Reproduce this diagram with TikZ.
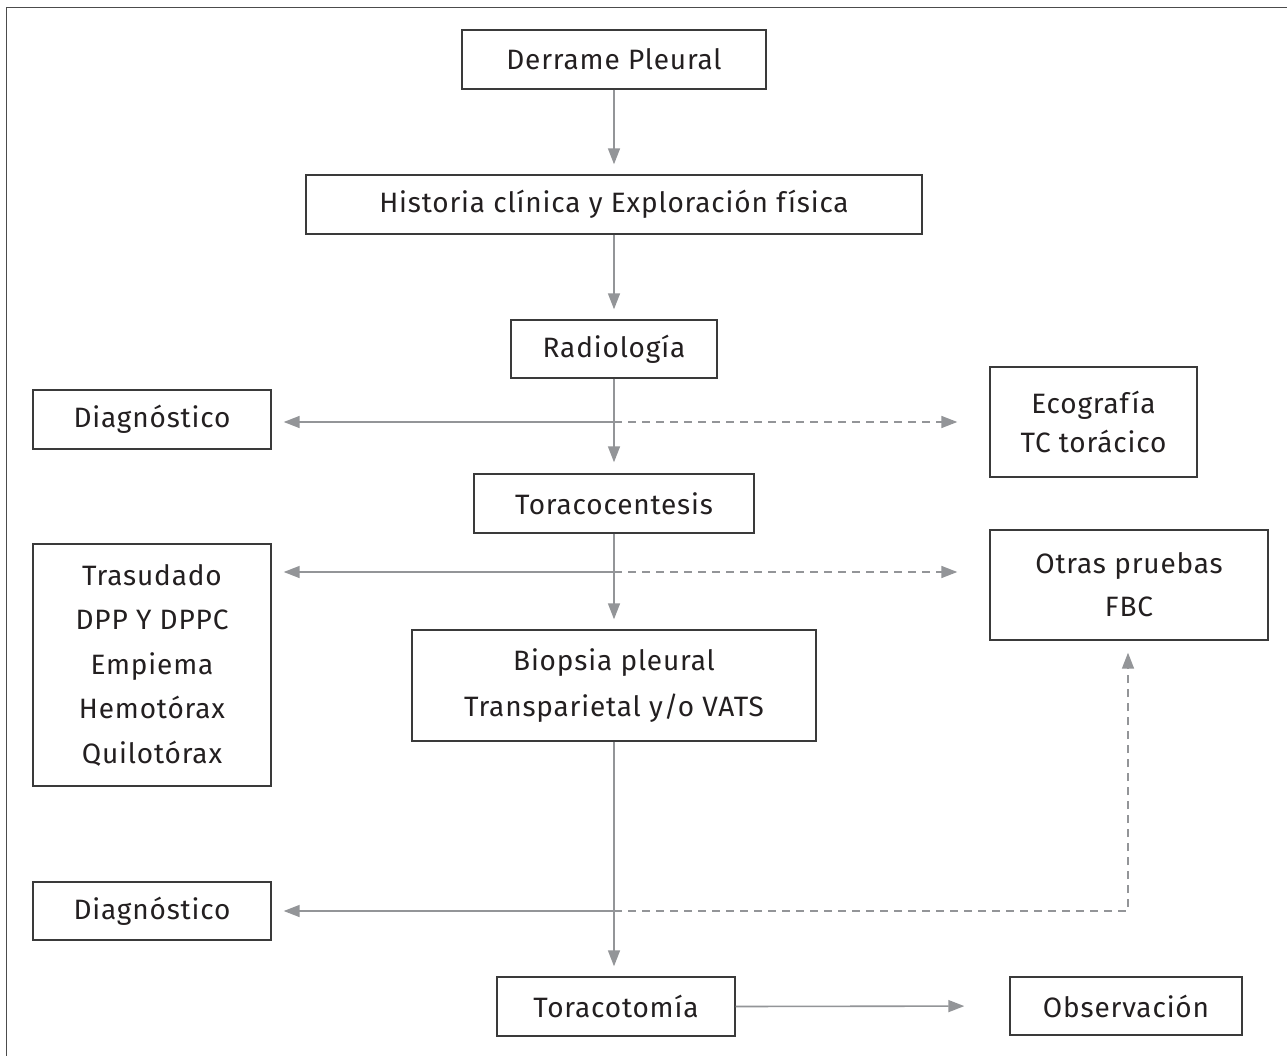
\documentclass[tikz,border=0pt]{standalone}
\usepackage{fontspec}
\setmainfont[LetterSpace=3]{Fira Sans}
\usetikzlibrary{arrows.meta}
\definecolor{linegray}{HTML}{939598}
\definecolor{boxgray}{HTML}{3A3A3A}
\definecolor{txt}{HTML}{231F20}
\tikzset{
  box/.style={draw=boxgray, line width=1.4pt, inner sep=0pt, align=center, text=txt,
    font=\fontsize{28}{43}\selectfont},
  conn/.style={draw=linegray, line width=1.6pt, -{Triangle[length=16pt,width=12pt]}},
  dconn/.style={conn, dash pattern=on 8pt off 6pt},
}
\begin{document}
\begin{tikzpicture}[x=1pt,y=-1pt]
\useasboundingbox (0,0) rectangle (1287,1056);
\fill[white] (0,0) rectangle (1287,1056);
% outer frame (cropped)
\draw[draw=black!70, line width=1.6pt] (6.5,1060) -- (6.5,7.5) -- (1290,7.5);

\node[box, minimum width=304pt, minimum height=59pt] (dp) at (614,59.5) {Derrame Pleural};
\node[box, minimum width=616pt, minimum height=59pt] (hc) at (614,204.5) {Historia clínica y Exploración física};
\node[box, minimum width=206pt, minimum height=58pt] (rad) at (614,349) {Radiología};
\node[box, minimum width=238pt, minimum height=59pt] (diagA) at (152,419.5) {Diagnóstico};
\node[box, minimum width=207pt, minimum height=110pt, font=\fontsize{28}{39}\selectfont] (eco) at (1093.5,422) {Ecografía\\TC torácico};
\node[box, minimum width=280pt, minimum height=59pt] (tor) at (614,503.5) {Toracocentesis};
\node[box, minimum width=238pt, minimum height=242pt, font=\fontsize{28}{44.5}\selectfont] (tras) at (152,665) {Trasudado\\DPP Y DPPC\\Empiema\\Hemotórax\\Quilotórax};
\node[box, minimum width=278pt, minimum height=110pt] (otras) at (1129,585) {Otras pruebas\\FBC};
\node[box, minimum width=404pt, minimum height=111pt, font=\fontsize{28}{46}\selectfont] (bio) at (614,685.5) {Biopsia pleural\\Transparietal y/o VATS};
\node[box, minimum width=238pt, minimum height=58pt] (diagB) at (152,911) {Diagnóstico};
\node[box, minimum width=238pt, minimum height=59pt] (tct) at (616,1006.5) {Toracotomía};
\node[box, minimum width=232pt, minimum height=58pt] (obs) at (1126,1006) {Observación};

\coordinate (r1) at (614,422);
\coordinate (r2) at (614,572);
\coordinate (r3) at (614,911);
\coordinate (bend) at (1128,911);

\draw[conn, shorten >=10pt] (dp.south) -- (hc.north);
\draw[conn, shorten >=10pt] (hc.south) -- (rad.north);
\draw[conn, shorten >=11pt] (rad.south) -- (tor.north);
\draw[conn, shorten >=12pt] (r1) -- (diagA.east |- r1);
\draw[dconn, shorten >=32pt] (r1) -- (eco.west |- r1);
\draw[conn, shorten >=10pt] (tor.south) -- (bio.north);
\draw[conn, shorten >=12pt] (r2) -- (tras.east |- r2);
\draw[dconn, shorten >=32pt] (r2) -- (otras.west |- r2);
\draw[conn, shorten >=10pt] (bio.south) -- (bio.south |- tct.north);
\draw[conn, shorten >=12pt] (r3) -- (diagB.east |- r3);
\draw[dconn, shorten >=12pt] (r3) -- (bend) -- (bend |- otras.south);
\draw[conn, shorten >=45pt] (tct.east) -- (obs.west);
\end{tikzpicture}
\end{document}
